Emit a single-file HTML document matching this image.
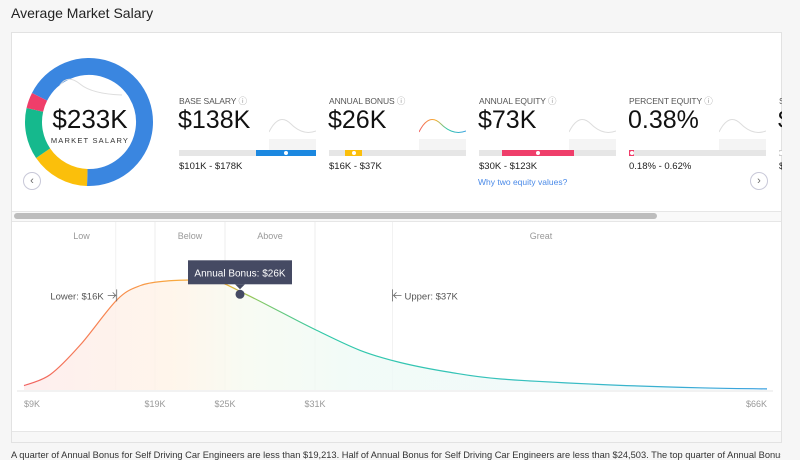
<!DOCTYPE html>
<html><head><meta charset="utf-8"><style>
*{margin:0;padding:0;box-sizing:border-box}
body{width:800px;height:457px;overflow:hidden;background:#f6f6f6;font-family:"Liberation Sans",sans-serif;position:relative;color:#222}
.abs{position:absolute}
.lbl{font-size:8.5px;color:#555;letter-spacing:-.1px}
.val{font-size:25px;color:#111;font-weight:300}
.rng{font-size:9.5px;color:#222}
.bar{height:6px;background:#e6e6e6}
</style></head><body>
<div class="abs" style="left:11px;top:5px;font-size:14px;color:#222">Average Market Salary</div>
<div class="abs" style="left:11px;top:32px;width:771px;height:411px;background:#fff;border:1px solid #e2e2e2"></div>
<div class="abs" style="left:12px;top:431px;width:769px;height:11px;background:#f7f7f7;border-top:1px solid #e6e6e6"></div>
<div class="abs" style="left:12px;top:211px;width:769px;height:11px;background:#f9f9f9;border-top:1px solid #e6e6e6;border-bottom:1px solid #e6e6e6"></div>
<div class="abs" style="left:14px;top:213px;width:643px;height:6px;background:#bdbdbd;border-radius:3px"></div>

<svg class="abs" style="left:0;top:0" width="800" height="220">
<g id="donut"></g>
<path d="M60 85 Q68 74 80 84 T122 95" fill="none" stroke="#ddd" stroke-width="1"/>
</svg>
<div class="abs" style="left:40px;top:104px;width:100px;text-align:center;font-size:26px;font-weight:300;color:#111">$233K</div>
<div class="abs" style="left:40px;top:136px;width:100px;text-align:center;font-size:7.5px;letter-spacing:1.2px;color:#333">MARKET SALARY</div>

<div id="cols" class="abs" style="left:0;top:0;width:782px;height:210px;overflow:hidden"></div>
<div class="abs" style="left:478px;top:177px;font-size:8.5px;color:#4a8ae8">Why two equity values?</div>
<div class="abs" style="left:23px;top:172px;width:18px;height:18px;border:1px solid #c8c8d8;border-radius:50%;font-size:11px;color:#666;text-align:center;line-height:16px;background:#fff">‹</div>
<div class="abs" style="left:750px;top:172px;width:18px;height:18px;border:1px solid #c8c8d8;border-radius:50%;font-size:11px;color:#666;text-align:center;line-height:16px;background:#fff">›</div>

<svg class="abs" style="left:0;top:222px" width="800" height="209" id="dist"></svg>

<div class="abs" style="left:11px;top:450px;width:770px;overflow:hidden;font-size:9.3px;color:#333;white-space:nowrap">A quarter of Annual Bonus for Self Driving Car Engineers are less than $19,213. Half of Annual Bonus for Self Driving Car Engineers are less than $24,503. The top quarter of Annual Bonus</div>

<script>
// donut data
const segNames=['base','bonus','equity','other'];
const segValues=[68,15,13,4];
const segColors=['#3a86e0','#fbbf0b','#15b98d','#ef3e6a'];
// metric cards
const metricLabels=['BASE SALARY','ANNUAL BONUS','ANNUAL EQUITY','PERCENT EQUITY','S'];
const metricValues=['$138K','$26K','$73K','0.38%','$'];
const metricRanges=['$101K - $178K','$16K - $37K','$30K - $123K','0.18% - 0.62%','$'];
const rangeStart=[0.56,0.12,0.17,0.0,0];
const rangeEnd=[1.0,0.24,0.69,0.04,0];
const rangeColors=['#1c88e0','#fbbf0b','#ef3e6a','#ef3e6a','#ccc'];
// distribution
const tickValues=[9,19,25,31,66];
const tickLabels=['$9K','$19K','$25K','$31K','$66K'];
const curveX=[9,11,13.3,16.1,17.9,19.9,22,24.1,26.4,28.7,31,34.5,37.6,41.5,45.4,53.1,60.8,66];
const curveY=[0.04,0.14,0.41,0.82,0.95,0.99,1.0,1.0,0.87,0.71,0.55,0.36,0.25,0.16,0.10,0.05,0.02,0.01];
const bandNames=['Low','Below','Above','Great'];
const bandEdges=[9,19,25,31,66];
const lowerVal=16, upperVal=37, bonusVal=26, bonusDensity=0.87;

const NS='http://www.w3.org/2000/svg';
function mk(t,a,p){const e=document.createElementNS(NS,t);for(const k in a)e.setAttribute(k,a[k]);p.appendChild(e);return e;}

// donut
const dg=document.getElementById('donut');
const cx=89,cy=122,r=55.5;
let tot=segValues.reduce((a,b)=>a+b,0);
let ang=297;
for(let i=0;i<segValues.length;i++){
 const sweep=segValues[i]/tot*360;
 const a0=(ang-90)*Math.PI/180,a1=(ang+sweep-90)*Math.PI/180;
 const p=mk('path',{d:`M${cx+r*Math.cos(a0)} ${cy+r*Math.sin(a0)} A${r} ${r} 0 ${sweep>180?1:0} 1 ${cx+r*Math.cos(a1)} ${cy+r*Math.sin(a1)}`,fill:'none',stroke:segColors[i],'stroke-width':17},dg);
 
 
 ang+=sweep;
}

// metric columns
const cols=document.getElementById('cols');
metricLabels.forEach((l,i)=>{
 const x=179+i*150;
 const d=document.createElement('div');
 d.className='abs';d.style.left=x+'px';d.style.top='0';
 
 
 const sc=i==1?'url(#sg)':'#ddd';
 d.innerHTML=`<svg class="abs" style="left:90px;top:110px" width="47" height="41"><defs><linearGradient id="sg"><stop offset="0" stop-color="#f06060"/><stop offset=".35" stop-color="#f8b030"/><stop offset=".6" stop-color="#30c8a8"/><stop offset="1" stop-color="#3aa0e0"/></linearGradient></defs><path d="M0 22 Q10 2 22 14 T47 21" fill="none" stroke="${sc}" stroke-width="1"/><rect x="0" y="29" width="47" height="12" fill="#f4f4f4"/></svg>
 <div class="abs lbl" style="left:0;top:95px;white-space:nowrap">${l} <span style="color:#999">ⓘ</span></div>
 <div class="abs val" style="left:-1px;top:106px;white-space:nowrap">${metricValues[i]}</div>
 <div class="abs bar" style="left:0;top:150px;width:137px"></div>
 <div class="abs" style="left:${rangeStart[i]*137}px;top:150px;width:${Math.max(4,(rangeEnd[i]-rangeStart[i])*137)}px;height:6px;background:${rangeColors[i]}"><div style="width:4px;height:4px;border-radius:2px;background:#fff;margin:1px auto"></div></div>
 <div class="abs rng" style="left:0;top:161px;white-space:nowrap">${metricRanges[i]}</div>`;
 cols.appendChild(d);
});

// distribution chart
const svg=document.getElementById('dist');
const tickPx=[24,155,225,315,767];
function xs(v){for(let i=0;i<tickValues.length-1;i++){if(v<=tickValues[i+1]||i==tickValues.length-2){return tickPx[i]+(v-tickValues[i])/(tickValues[i+1]-tickValues[i])*(tickPx[i+1]-tickPx[i]);}}}
const y0=168, yh=110;
function ys(d){return y0-d*yh;}
const defs=mk('defs',{},svg);
const lg=mk('linearGradient',{id:'lg',x1:0,x2:1,y1:0,y2:0},defs);
[['0','#f06060'],['0.12','#f88a50'],['0.2','#f8a840'],['0.27','#f4b030'],['0.31','#8cc860'],['0.4','#30c8a8'],['0.7','#38c0c0'],['1','#3aa0e0']].forEach(s=>mk('stop',{offset:s[0],'stop-color':s[1]},lg));
const fg=mk('linearGradient',{id:'fg',x1:0,x2:1,y1:0,y2:0},defs);
[['0','#fdeaea'],['0.2','#fff3e6'],['0.3','#f6faf0'],['0.45','#eefaf6'],['1','#eef8fc']].forEach(s=>mk('stop',{offset:s[0],'stop-color':s[1]},fg));
// bands
bandEdges.slice(1,4).forEach((v,i)=>{const l=mk('line',{x1:xs(v),x2:xs(v),y1:0,y2:y0,stroke:'#eee'},svg);});
bandNames.forEach((n,i)=>{const t=mk('text',{x:(xs(bandEdges[i])+xs(bandEdges[i+1]))/2+(i==0?-8:0),y:17,'text-anchor':'middle','font-size':9,fill:'#999'},svg);t.textContent=n;});
[lowerVal,upperVal].forEach(v=>mk('line',{x1:xs(v),x2:xs(v),y1:0,y2:y0,stroke:'#f2f2f2'},svg));
// smooth curve (catmull-rom)
const pts=curveX.map((v,i)=>[xs(v),ys(curveY[i])]);
let d='M'+pts[0][0].toFixed(1)+' '+pts[0][1].toFixed(1);
for(let i=0;i<pts.length-1;i++){
 const p0=pts[Math.max(0,i-1)],p1=pts[i],p2=pts[i+1],p3=pts[Math.min(pts.length-1,i+2)];
 const c1=[p1[0]+(p2[0]-p0[0])/6,p1[1]+(p2[1]-p0[1])/6],c2=[p2[0]-(p3[0]-p1[0])/6,p2[1]-(p3[1]-p1[1])/6];
 d+=`C${c1[0].toFixed(1)} ${c1[1].toFixed(1)} ${c2[0].toFixed(1)} ${c2[1].toFixed(1)} ${p2[0].toFixed(1)} ${p2[1].toFixed(1)}`;
}
const area=mk('path',{d:d+`L${xs(curveX[curveX.length-1])} ${y0}L${xs(curveX[0])} ${y0}Z`,fill:'url(#fg)',opacity:0.8},svg);

const line=mk('path',{d:d,fill:'none',stroke:'url(#lg)','stroke-width':1.2},svg);

// axis
const ax=mk('line',{x1:17,x2:773,y1:y0+1,y2:y0+1,stroke:'#e6e6e6'},svg);

tickValues.forEach((v,i)=>{const t=mk('text',{x:xs(v),y:y0+17,'text-anchor':i==0?'start':(i==tickValues.length-1?'end':'middle'),'font-size':9,fill:'#999'},svg);t.textContent=tickLabels[i];});
// markers
const lx=xs(lowerVal),ux=xs(upperVal),my=ys(0.86);
const lt=mk('text',{x:lx-12,y:my+4,'text-anchor':'end','font-size':9.5,fill:'#555'},svg);lt.textContent='Lower: $16K';

mk('path',{d:`M${lx-8} ${my}H${lx}M${lx-3} ${my-3}L${lx} ${my}L${lx-3} ${my+3}M${lx+1} ${my-6}V${my+6}`,stroke:'#666',fill:'none','stroke-width':0.8},svg);
const ut=mk('text',{x:ux+12,y:my+4,'font-size':9.5,fill:'#555'},svg);ut.textContent='Upper: $37K';

mk('path',{d:`M${ux+9} ${my}H${ux+1}M${ux+4} ${my-3}L${ux+1} ${my}L${ux+4} ${my+3}M${ux} ${my-6}V${my+6}`,stroke:'#666',fill:'none','stroke-width':0.8},svg);
// point + tooltip
const bx=xs(bonusVal),by=ys(bonusDensity);
const dot=mk('circle',{cx:bx,cy:by,r:4.5,fill:'#454a63'},svg);

const tip=mk('g',{},svg);

mk('rect',{x:bx-52,y:by-34,width:104,height:24,fill:'#454a63'},tip);
mk('path',{d:`M${bx-5} ${by-10}L${bx} ${by-5}L${bx+5} ${by-10}Z`,fill:'#454a63'},tip);
const tt=mk('text',{x:bx,y:by-18,'text-anchor':'middle','font-size':10,fill:'#fff'},tip);tt.textContent='Annual Bonus: $26K';
</script>
</body></html>
